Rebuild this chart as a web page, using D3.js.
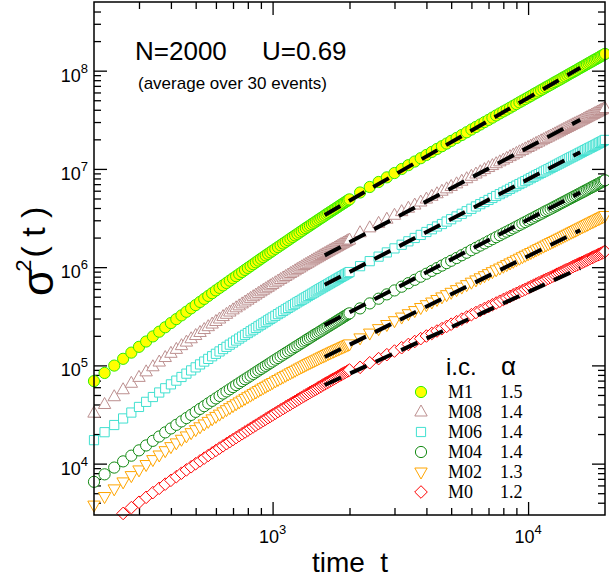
<!DOCTYPE html>
<html>
<head>
<meta charset="utf-8">
<script src="https://cdn.jsdelivr.net/npm/d3@7"></script>
<style>
  html, body { margin: 0; padding: 0; background: #fff; }
  svg { display: block; }
</style>
</head>
<body>
<svg id="chart" width="609" height="578"></svg>
<script>
// ---------------- data ----------------
// time values of the two sampled runs
const tLeft = [200,220,240,260,280,300,320,340,360,380,400,420,440,460,480,500,520,540,560,580,600,
  620,640,660,680,700,720,740,760,780,800,820,840,860,880,900,920,940,960,980,1000,
  1025,1050,1075,1100,1125,1150,1175,1200,1225,1250,1275,1300,1325,1350,1375,1400,1425,1450,1475,1500,
  1525,1550,1575,1600,1625,1650,1675,1700,1725,1750,1775,1800,1825,1850,1875,1900,1925,1950,1975,2000];
const tRight = [2200,2400,2600,2800,3000,3200,3400,3600,3800,4000,4200,4400,4600,4800,5000,
  5250,5500,5750,6000,6250,6500,6750,7000,7250,7500,7750,8000,8250,8500,8750,9000,9250,9500,9750,10000,
  10250,10500,10750,11000,11250,11500,11750,12000,12250,12500,12750,13000,13250,13500,13750,14000,
  14250,14500,14750,15000,15250,15500,15750,16000,16250,16500,16750,17000,17250,17500,17750,18000,
  18250,18500,18750,19000,19250,19500,19750,20000];

// log10 of sigma^2(t), per initial condition
const m1Left = [4.840,4.923,4.998,5.067,5.130,5.189,5.243,5.295,5.343,5.388,5.431,5.471,5.509,5.546,5.581,5.614,5.646,5.677,5.707,5.735,5.763,
  5.789,5.814,5.839,5.863,5.886,5.908,5.930,5.951,5.972,5.992,6.011,6.030,6.049,6.067,6.085,6.102,6.119,6.135,6.151,6.167,
  6.186,6.204,6.222,6.240,6.257,6.274,6.291,6.307,6.323,6.338,6.353,6.368,6.383,6.397,6.411,6.424,6.438,6.451,6.464,6.476,
  6.489,6.501,6.513,6.525,6.537,6.548,6.559,6.570,6.581,6.591,6.602,6.612,6.623,6.633,6.643,6.652,6.662,6.671,6.681,6.690];
const m1Right = [6.760,6.816,6.867,6.914,6.958,6.999,7.038,7.075,7.109,7.142,7.173,7.203,7.231,7.258,7.285,
  7.315,7.345,7.373,7.401,7.427,7.452,7.476,7.499,7.522,7.544,7.565,7.585,7.604,7.623,7.642,7.660,7.678,7.695,7.711,7.727,
  7.743,7.759,7.774,7.788,7.803,7.817,7.831,7.844,7.857,7.870,7.883,7.895,7.907,7.919,7.931,7.942,7.954,7.965,7.976,7.986,
  7.997,8.007,8.018,8.028,8.038,8.047,8.057,8.066,8.076,8.085,8.094,8.103,8.112,8.120,8.129,8.137,8.146,8.154,8.162,8.170];

const m08Left = [4.514,4.602,4.681,4.752,4.818,4.878,4.934,4.986,5.034,5.080,5.123,5.163,5.201,5.237,5.271,5.304,5.335,5.365,5.394,5.421,5.447,
  5.472,5.497,5.520,5.543,5.565,5.586,5.606,5.626,5.645,5.664,5.682,5.699,5.716,5.733,5.749,5.765,5.780,5.795,5.810,5.824,
  5.841,5.858,5.874,5.890,5.905,5.920,5.935,5.949,5.963,5.977,5.990,6.003,6.016,6.028,6.040,6.052,6.064,6.075,6.086,6.096,
  6.107,6.118,6.128,6.138,6.148,6.157,6.167,6.176,6.185,6.194,6.203,6.212,6.221,6.229,6.237,6.245,6.253,6.261,6.269,6.276];
const m08Right = [6.350,6.400,6.446,6.488,6.528,6.565,6.600,6.632,6.663,6.693,6.721,6.747,6.773,6.797,6.821,
  6.848,6.875,6.900,6.925,6.948,6.971,6.993,7.014,7.034,7.053,7.072,7.090,7.108,7.125,7.142,7.158,7.174,7.189,7.204,7.218,
  7.232,7.246,7.260,7.273,7.286,7.298,7.311,7.323,7.335,7.346,7.357,7.368,7.379,7.390,7.401,7.411,7.421,7.431,7.441,7.451,
  7.460,7.469,7.478,7.487,7.496,7.505,7.514,7.522,7.531,7.539,7.547,7.555,7.563,7.571,7.579,7.586,7.594,7.601,7.608,7.615];

const m06Left = [4.239,4.320,4.393,4.460,4.520,4.577,4.629,4.678,4.724,4.767,4.807,4.845,4.882,4.916,4.949,4.980,5.010,5.039,5.066,5.093,5.118,
  5.142,5.166,5.189,5.211,5.232,5.253,5.273,5.293,5.311,5.329,5.347,5.364,5.381,5.398,5.414,5.429,5.444,5.459,5.474,5.488,
  5.505,5.522,5.538,5.554,5.570,5.585,5.600,5.614,5.628,5.642,5.655,5.668,5.681,5.693,5.706,5.718,5.730,5.741,5.753,5.764,
  5.775,5.785,5.796,5.806,5.816,5.826,5.836,5.846,5.855,5.864,5.874,5.883,5.892,5.901,5.909,5.917,5.926,5.934,5.942,5.950];
const m06Right = [6.010,6.061,6.107,6.150,6.191,6.228,6.263,6.297,6.328,6.358,6.386,6.414,6.439,6.464,6.488,
  6.516,6.543,6.569,6.594,6.618,6.641,6.663,6.684,6.704,6.724,6.743,6.761,6.779,6.797,6.814,6.830,6.846,6.861,6.876,6.891,
  6.906,6.920,6.934,6.947,6.960,6.973,6.985,6.997,7.009,7.021,7.033,7.044,7.055,7.066,7.077,7.087,7.098,7.108,7.118,7.127,
  7.137,7.146,7.156,7.165,7.174,7.183,7.192,7.200,7.209,7.217,7.225,7.233,7.241,7.249,7.257,7.265,7.273,7.280,7.288,7.295];

const m04Left = [3.815,3.891,3.960,4.023,4.081,4.135,4.185,4.232,4.276,4.318,4.358,4.395,4.430,4.464,4.496,4.527,4.557,4.585,4.613,4.639,4.664,
  4.689,4.713,4.735,4.757,4.779,4.800,4.820,4.840,4.859,4.877,4.895,4.913,4.930,4.947,4.963,4.979,4.995,5.010,5.025,5.040,
  5.058,5.075,5.092,5.109,5.125,5.140,5.156,5.171,5.186,5.200,5.214,5.228,5.242,5.255,5.268,5.281,5.294,5.306,5.318,5.329,
  5.341,5.352,5.364,5.375,5.386,5.396,5.407,5.417,5.427,5.437,5.447,5.457,5.467,5.476,5.486,5.495,5.504,5.513,5.522,5.530];
const m04Right = [5.580,5.631,5.679,5.723,5.763,5.801,5.837,5.871,5.903,5.933,5.962,5.990,6.016,6.041,6.065,
  6.093,6.121,6.147,6.173,6.197,6.220,6.242,6.264,6.285,6.305,6.324,6.343,6.361,6.378,6.395,6.412,6.428,6.444,6.459,6.474,
  6.489,6.503,6.517,6.531,6.544,6.557,6.570,6.582,6.594,6.606,6.618,6.629,6.641,6.652,6.663,6.673,6.684,6.694,6.704,6.714,
  6.724,6.733,6.743,6.752,6.761,6.770,6.779,6.788,6.797,6.805,6.814,6.822,6.830,6.838,6.846,6.854,6.862,6.869,6.877,6.884];

const m02Left = [3.578,3.665,3.743,3.814,3.878,3.936,3.991,4.041,4.088,4.132,4.173,4.211,4.248,4.282,4.315,4.346,4.375,4.404,4.430,4.456,4.481,
  4.504,4.527,4.549,4.570,4.590,4.609,4.628,4.646,4.664,4.681,4.697,4.713,4.729,4.744,4.759,4.773,4.787,4.800,4.813,4.826,
  4.841,4.856,4.871,4.885,4.899,4.912,4.925,4.938,4.950,4.962,4.974,4.985,4.996,5.007,5.018,5.028,5.038,5.047,5.057,5.066,
  5.076,5.085,5.094,5.102,5.111,5.119,5.127,5.135,5.143,5.150,5.158,5.165,5.172,5.179,5.186,5.193,5.200,5.206,5.213,5.219];
const m02Right = [5.280,5.329,5.374,5.416,5.455,5.492,5.526,5.558,5.589,5.618,5.645,5.671,5.697,5.720,5.744,
  5.771,5.797,5.822,5.847,5.870,5.892,5.913,5.934,5.954,5.973,5.991,6.009,6.026,6.043,6.059,6.075,6.091,6.106,6.121,6.135,
  6.149,6.162,6.176,6.189,6.202,6.214,6.226,6.238,6.250,6.261,6.272,6.283,6.294,6.304,6.315,6.325,6.335,6.345,6.355,6.364,
  6.373,6.382,6.391,6.400,6.409,6.418,6.426,6.434,6.443,6.451,6.459,6.467,6.475,6.482,6.490,6.497,6.505,6.512,6.519,6.526];

// first three times are below the plotted range for M0
const m0Left = [null,null,null,3.493,3.552,3.607,3.657,3.705,3.749,3.791,3.830,3.867,3.903,3.936,3.968,3.999,4.028,4.056,4.083,4.109,4.134,
  4.158,4.181,4.203,4.224,4.245,4.265,4.285,4.304,4.322,4.340,4.358,4.375,4.391,4.407,4.423,4.438,4.453,4.468,4.482,4.496,
  4.513,4.530,4.546,4.561,4.577,4.592,4.606,4.620,4.634,4.648,4.661,4.674,4.687,4.699,4.711,4.723,4.735,4.746,4.757,4.768,
  4.779,4.790,4.801,4.811,4.821,4.830,4.840,4.850,4.859,4.868,4.877,4.886,4.895,4.904,4.913,4.921,4.929,4.937,4.945,4.953];
const m0Right = [4.980,5.027,5.069,5.109,5.146,5.180,5.213,5.243,5.272,5.299,5.325,5.350,5.374,5.397,5.419,
  5.445,5.470,5.493,5.516,5.538,5.559,5.579,5.598,5.617,5.635,5.653,5.670,5.686,5.702,5.718,5.733,5.747,5.761,5.775,5.789,
  5.802,5.815,5.828,5.840,5.852,5.864,5.875,5.886,5.897,5.908,5.919,5.929,5.939,5.949,5.959,5.969,5.978,5.987,5.997,6.006,
  6.015,6.023,6.032,6.040,6.048,6.056,6.064,6.072,6.080,6.088,6.096,6.103,6.111,6.118,6.125,6.132,6.139,6.146,6.153,6.159];

// power-law fits (dashed), log10 sigma^2 at the two ends
const fitT = [1600, 16000];
const fitM1 = [6.530, 8.030];
const fitM08 = [6.120, 7.500];
const fitM06 = [5.820, 7.170];
const fitM04 = [5.410, 6.760];
const fitM02 = [5.085, 6.376];
const fitM0 = [4.800, 5.990];

const labels = ["M1", "M08", "M06", "M04", "M02", "M0"];
const alphas = ["1.5", "1.4", "1.4", "1.4", "1.3", "1.2"];

const xDomain = [200, 20000];
const yDomain = [3000, 5e8];
const xMajor = [1e3, 1e4];
const yMajor = [1e4, 1e5, 1e6, 1e7, 1e8];

// ---------------- drawing ----------------
const SANS = "'Liberation Sans', Arial, Helvetica, sans-serif";
const SERIF = "'Liberation Serif', 'Times New Roman', Times, serif";
const L = 94, R = 605, T = 2, B = 515;

const svg = d3.select("#chart");
svg.append("rect").attr("width", 609).attr("height", 578).attr("fill", "#fff");

const x = d3.scaleLog().domain(xDomain).range([L, R]);
const y = d3.scaleLog().domain(yDomain).range([B, T]);

const styles = [
  {sym: "circle",  stroke: "#33ee00", fill: "#ffff00"},
  {sym: "triUp",   stroke: "#bc8f8f", fill: "#ffffff"},
  {sym: "square",  stroke: "#40e0d0", fill: "#ffffff"},
  {sym: "circle",  stroke: "#138a13", fill: "#ffffff"},
  {sym: "triDown", stroke: "#ffa500", fill: "#ffffff"},
  {sym: "diamond", stroke: "#ff0000", fill: "#ffffff"}
];
const symPath = {
  circle: d3.symbol().type(d3.symbolCircle).size(Math.PI * 5.6 * 5.6)(),
  triUp: "M0,-7L6.2,4L-6.2,4Z",
  triDown: "M0,7L6.2,-4L-6.2,-4Z",
  square: "M-4.6,-4.6H4.6V4.6H-4.6Z",
  diamond: "M0,-6.3L6.3,0L0,6.3L-6.3,0Z"
};

const seriesData = [
  [m1Left, m1Right, fitM1],
  [m08Left, m08Right, fitM08],
  [m06Left, m06Right, fitM06],
  [m04Left, m04Right, fitM04],
  [m02Left, m02Right, fitM02],
  [m0Left, m0Right, fitM0]
];

function toPoints(ts, logs) {
  return ts.map((t, i) => ({t: t, v: logs[i] == null ? null : Math.pow(10, logs[i])}))
           .filter(d => d.v != null);
}

// ticks (inward, all four sides)
const xMinor = x.ticks().filter(v => v > xDomain[0] * 1.001 && v < xDomain[1] * 0.999 && !xMajor.includes(v));
const yMinor = y.ticks().filter(v => v > yDomain[0] * 1.001 && v < yDomain[1] * 0.999 && !yMajor.some(m => Math.abs(m / v - 1) < 1e-6));

function axisG(axisFn, scale, vals, size, tr) {
  const g = svg.append("g").attr("transform", tr)
    .call(axisFn(scale).tickValues(vals).tickSize(-size).tickFormat(""));
  g.select(".domain").remove();
  g.selectAll("line").attr("stroke", "#000").attr("stroke-width", 1.3);
}
axisG(d3.axisBottom, x, xMajor, 13, `translate(0,${B})`);
axisG(d3.axisBottom, x, xMinor, 7, `translate(0,${B})`);
axisG(d3.axisTop, x, xMajor, 13, `translate(0,${T})`);
axisG(d3.axisTop, x, xMinor, 7, `translate(0,${T})`);
axisG(d3.axisLeft, y, yMajor, 13, `translate(${L},0)`);
axisG(d3.axisLeft, y, yMinor, 7, `translate(${L},0)`);
axisG(d3.axisRight, y, yMajor, 13, `translate(${R},0)`);
axisG(d3.axisRight, y, yMinor, 7, `translate(${R},0)`);

// tick labels
xMajor.forEach(v => {
  const tx = svg.append("text").attr("x", x(v)).attr("y", 543)
    .attr("text-anchor", "middle").attr("font-family", SANS).attr("font-size", 18).attr("fill", "#000");
  tx.append("tspan").text("10");
  tx.append("tspan").attr("font-size", 13).attr("dy", -9).text(String(Math.round(Math.log10(v))));
});
yMajor.forEach(v => {
  const ty = svg.append("text").attr("x", 88).attr("y", y(v) + 11)
    .attr("text-anchor", "end").attr("font-family", SANS).attr("font-size", 18).attr("fill", "#000");
  ty.append("tspan").text("10");
  ty.append("tspan").attr("font-size", 13).attr("dy", -9).text(String(Math.round(Math.log10(v))));
});

// markers
const plot = svg.append("g");
seriesData.forEach((s, i) => {
  const st = styles[i];
  const pts = toPoints(tLeft, s[0]).concat(toPoints(tRight, s[1]));
  plot.append("g").selectAll("path").data(pts).join("path")
    .attr("d", symPath[st.sym])
    .attr("transform", d => `translate(${x(d.t)},${y(d.v)})`)
    .attr("fill", st.fill).attr("stroke", st.stroke).attr("stroke-width", 1);
});

// dashed fits
const line = d3.line().x(d => x(d.t)).y(d => y(d.v));
seriesData.forEach(s => {
  svg.append("path").datum(toPoints(fitT, s[2]))
    .attr("d", line).attr("fill", "none").attr("stroke", "#000")
    .attr("stroke-width", 4).attr("stroke-dasharray", "18,10");
});

// frame
svg.append("rect").attr("x", L).attr("y", T).attr("width", R - L).attr("height", B - T)
  .attr("fill", "none").attr("stroke", "#000").attr("stroke-width", 1.5);

// annotations
svg.append("text").attr("x", 135).attr("y", 60).attr("font-family", SANS).attr("font-size", 26)
  .text("N=2000");
svg.append("text").attr("x", 262).attr("y", 60).attr("font-family", SANS).attr("font-size", 26)
  .text("U=0.69");
svg.append("text").attr("x", 138).attr("y", 89).attr("font-family", SANS).attr("font-size", 17)
  .text("(average over 30 events)");

// legend
svg.append("text").attr("x", 446).attr("y", 375).attr("font-family", SANS).attr("font-size", 24).text("i.c.");
svg.append("text").attr("x", 501).attr("y", 375).attr("font-family", SANS).attr("font-size", 26).text("α");
labels.forEach((lab, i) => {
  const cy = 392 + 20 * i;
  const st = styles[i];
  svg.append("path").attr("d", symPath[st.sym]).attr("transform", `translate(421,${cy})`)
    .attr("fill", st.fill).attr("stroke", st.stroke).attr("stroke-width", 1);
  svg.append("text").attr("x", 448).attr("y", cy + 6).attr("font-family", SERIF).attr("font-size", 18).text(lab);
  svg.append("text").attr("x", 500).attr("y", cy + 6).attr("font-family", SERIF).attr("font-size", 18).text(alphas[i]);
});

// axis titles
svg.append("text").attr("x", 350).attr("y", 572).attr("text-anchor", "middle")
  .attr("font-family", SANS).attr("font-size", 28).style("white-space", "pre").text("time  t");

const yt = svg.append("text").attr("transform", "translate(53,296) rotate(-90)")
  .attr("font-family", SANS).attr("fill", "#000");
yt.append("tspan").attr("font-size", 44).text("σ");
yt.append("tspan").attr("font-size", 22).attr("dx", -3).attr("dy", -22).text("2");
yt.append("tspan").attr("font-size", 34).attr("dx", 2).attr("dy", 14).style("white-space", "pre").text("( t )");
</script>
</body>
</html>
